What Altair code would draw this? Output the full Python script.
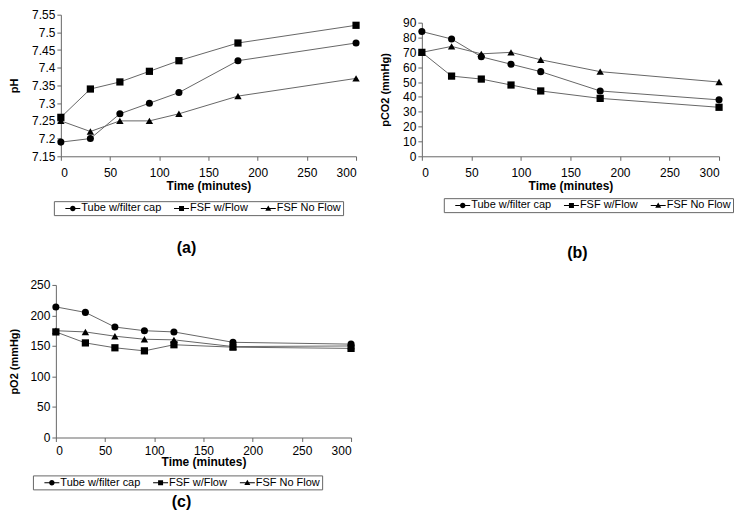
import altair as alt
import pandas as pd

times = [0, 30, 60, 90, 120, 180, 300]
series = ["Tube w/filter cap", "FSF w/Flow", "FSF No Flow"]

ph_tube = [7.19, 7.20, 7.27, 7.30, 7.33, 7.42, 7.47]
ph_flow = [7.26, 7.34, 7.36, 7.39, 7.42, 7.47, 7.52]
ph_noflow = [7.25, 7.22, 7.25, 7.25, 7.27, 7.32, 7.37]

pco2_tube = [84, 79, 67, 62, 57, 44, 38]
pco2_flow = [70, 54, 52, 48, 44, 39, 33]
pco2_noflow = [70, 74, 69, 70, 65, 57, 50]

po2_tube = [214, 205, 181, 175, 173, 156, 153]
po2_flow = [173, 155, 147, 142, 152, 148, 146]
po2_noflow = [175, 173, 166, 161, 160, 149, 150]

x_ticks = [0, 50, 100, 150, 200, 250, 300]
ph_ticks = [7.15, 7.2, 7.25, 7.3, 7.35, 7.4, 7.45, 7.5, 7.55]
pco2_ticks = [0, 10, 20, 30, 40, 50, 60, 70, 80, 90]
po2_ticks = [0, 50, 100, 150, 200, 250]

FONT = "Liberation Sans, Arial, sans-serif"

# legend glyphs (filled paths): short line with the marker on it
LINE = "M-1.5,-0.1H1.5V0.1H-1.5Z"
P_CIRCLE = LINE + "M0.55,0A0.55,0.55,0,1,1,-0.55,0A0.55,0.55,0,1,1,0.55,0Z"
P_SQUARE = LINE + "M-0.5,-0.5H0.5V0.5H-0.5Z"
P_TRI = LINE + "M0,-0.6L0.6,0.45H-0.6Z"


def frame(vals_list):
    rows = []
    for s, vals in zip(series, vals_list):
        for t, v in zip(times, vals):
            rows.append({"time": t, "value": v, "series": s, "key": s})
    return pd.DataFrame(rows)


def panel(df, ytitle, ydomain, yticks, yfmt, label, legx, legy, title_dx, title_offset,
          w, h, yrange=None, xrange=None, yoffset=0, lab_pad=7, tit_pad=2, ytit_pad=12):
    if xrange is not None:
        xscale = alt.Scale(domain=[0, 300], nice=False, range=xrange)
    else:
        xscale = alt.Scale(domain=[0, 300], nice=False)
    if yrange is not None:
        yscale = alt.Scale(domain=ydomain, nice=False, zero=False, range=yrange)
    else:
        yscale = alt.Scale(domain=ydomain, nice=False, zero=False)
    x = alt.X("time:Q", scale=xscale,
              axis=alt.Axis(title="Time (minutes)", values=x_ticks, format="d",
                            labelPadding=lab_pad, titlePadding=tit_pad))
    y = alt.Y("value:Q", scale=yscale,
              axis=alt.Axis(title=ytitle, values=yticks, format=yfmt,
                            titlePadding=ytit_pad, offset=yoffset, labelPadding=2))
    base = alt.Chart(df)
    lines = base.mark_line(color="#666666", strokeWidth=1).encode(
        x=x, y=y, detail="series:N")
    pts = base.mark_point(filled=True, color="black", opacity=1).encode(
        x=x, y=y,
        shape=alt.Shape(
            "series:N",
            scale=alt.Scale(domain=series, range=["circle", "square", "triangle-up"]),
            legend=None,
        ),
        size=alt.Size("series:N", scale=alt.Scale(domain=series, range=[50, 55, 55]),
                      legend=None),
    )
    # legend carrier: zero-size, invisible marks; only its legend is seen
    leg = base.mark_point(filled=True, color="black", opacity=0, size=0).encode(
        x=x, y=y,
        shape=alt.Shape(
            "key:N",
            scale=alt.Scale(domain=series, range=[P_CIRCLE, P_SQUARE, P_TRI]),
            legend=alt.Legend(
                orient="none", legendX=legx, legendY=legy, direction="horizontal",
                title=None, symbolSize=100, symbolStrokeWidth=0, symbolOpacity=1,
                symbolFillColor="black",
                symbolOffset=12, labelOffset=3,
                labelFont=FONT, labelFontSize=11, labelColor="black",
                columnPadding=2, padding=1.5,
                strokeColor="#666666",
            ),
        ),
    )
    return alt.layer(lines, pts, leg).resolve_scale(shape="independent").properties(
        width=w, height=h,
        title=alt.TitleParams(label, orient="bottom", fontSize=16, fontWeight="bold",
                              font=FONT, color="black", dx=title_dx, offset=title_offset),
    )


pa = panel(frame([ph_tube, ph_flow, ph_noflow]), "pH", [7.15, 7.55], ph_ticks, ".3~g",
           "(a)", -7, 187, -22, 24, w=296, h=142)
pb = panel(frame([pco2_tube, pco2_flow, pco2_noflow]), "pCO2 (mmHg)", [0, 90], pco2_ticks, "d",
           "(b)", 22, 184, 7, 32, w=298, h=142, yrange=[142, 8])
pc = panel(frame([po2_tube, po2_flow, po2_noflow]), "pO2 (mmHg)", [0, 250], po2_ticks, "d",
           "(c)", -28, 191, -27, 4, w=296, h=153, xrange=[-5, 291], yoffset=5,
           lab_pad=4, tit_pad=0, ytit_pad=10)

chart = alt.ConcatChart(
    concat=[pa, pb, pc], columns=2, bounds="flush", align="none",
    spacing={"row": 129, "column": 66},
).properties(
    padding={"left": 0, "top": 0, "right": 0, "bottom": 0}
).configure_view(stroke=None).configure_axis(
    labelFont=FONT, labelFontSize=12, labelColor="black",
    titleFont=FONT, titleFontSize=12, titleFontWeight="bold", titleColor="black",
    domainColor="#666666", tickColor="#666666", tickSize=4, grid=False,
).configure_axisY(titleFontSize=11)

chart.save("out.html", embed_options={"renderer": "svg", "actions": False})
